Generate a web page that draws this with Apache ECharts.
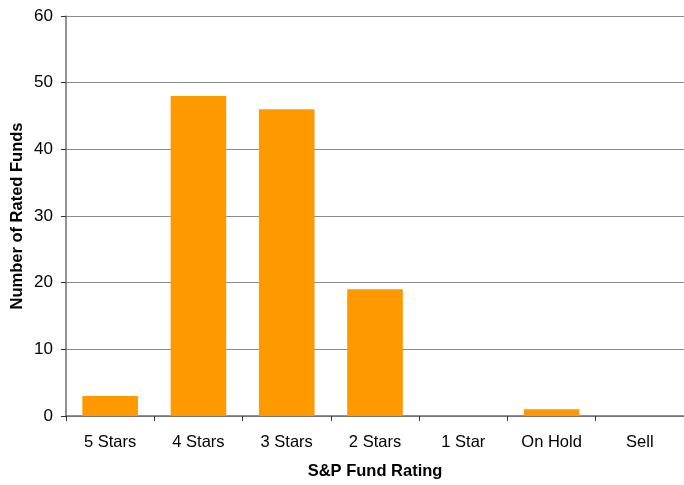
<!DOCTYPE html>
<html><head><meta charset="utf-8">
<script src="https://cdn.jsdelivr.net/npm/echarts@6/dist/echarts.min.js"></script>
<style>html,body{margin:0;padding:0;background:#fff}#c{width:684px;height:485px}</style>
</head><body><div id="c"></div>
<script>
const categories = ["5 Stars","4 Stars","3 Stars","2 Stars","1 Star","On Hold","Sell"];
const fundCounts = [3,48,46,19,0,1,0];
const yTicks = [0,10,20,30,40,50,60];

const chart = echarts.init(document.getElementById('c'));
chart.setOption({
  animation:false,
  backgroundColor:'#fff',
  grid:{left:66,right:0,top:16,bottom:69,containLabel:false,outerBoundsMode:'none'},
  xAxis:{
    type:'category',data:categories,
    name:'S&P Fund Rating',nameLocation:'middle',nameGap:47,nameMoveOverlap:false,
    nameTextStyle:{fontFamily:'Liberation Sans',fontSize:16.5,fontWeight:'bold',color:'#000'},
    axisLine:{lineStyle:{color:'#6e6e6e',width:1.5}},
    axisTick:{show:true,length:5,lineStyle:{color:'#333'}},
    axisLabel:{fontFamily:'Liberation Sans',fontSize:16.5,color:'#000',margin:18}
  },
  yAxis:{
    type:'value',min:yTicks[0],max:yTicks[yTicks.length-1],interval:10,
    name:'Number of Rated Funds',nameLocation:'middle',nameGap:40,nameMoveOverlap:false,
    nameTextStyle:{fontFamily:'Liberation Sans',fontSize:16.5,fontWeight:'bold',color:'#000'},
    axisLine:{show:true,lineStyle:{color:'#6e6e6e',width:1.5}},
    axisTick:{show:true,length:5,lineStyle:{color:'#333'}},
    axisLabel:{fontFamily:'Liberation Sans',fontSize:17,color:'#000',margin:13},
    splitLine:{lineStyle:{color:'#8c8c8c',width:1}}
  },
  series:[{
    type:'bar',data:fundCounts,barWidth:'63%',
    itemStyle:{color:'#FF9900'}
  }]
});
</script></body></html>
